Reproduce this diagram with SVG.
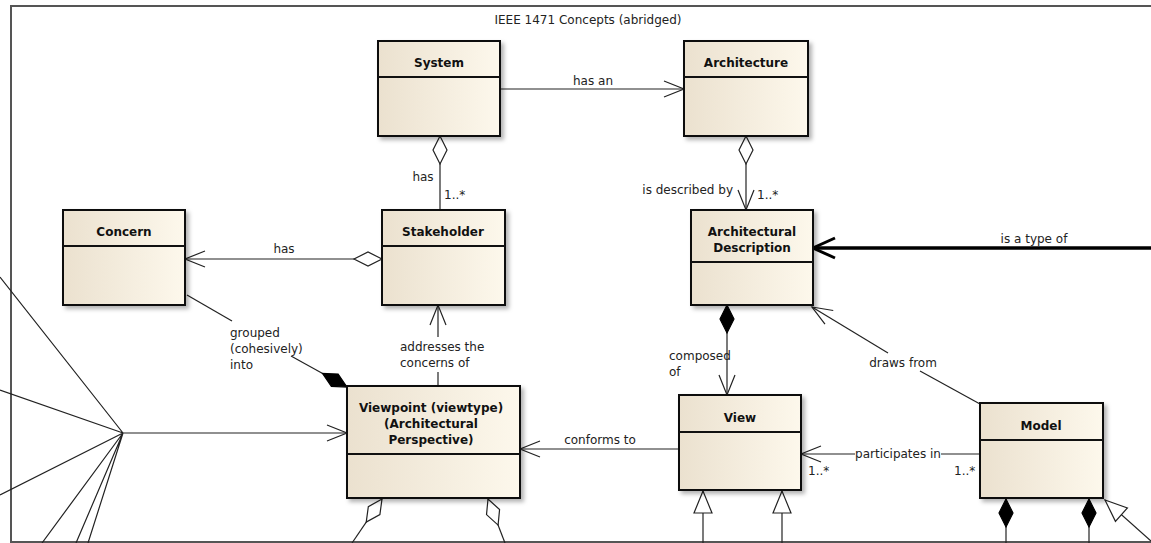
<svg xmlns="http://www.w3.org/2000/svg" width="1151" height="543" viewBox="0 0 1151 543">
<style>
.node rect.box{fill:url(#g);stroke:#111;stroke-width:2;filter:url(#sh)}
.node line{stroke:#111;stroke-width:2}
.title{font-family:"DejaVu Sans",sans-serif;font-size:12px;font-weight:bold;fill:#111;text-anchor:middle}
.lbl{font-family:"DejaVu Sans",sans-serif;font-size:12px;fill:#222}
.c{fill:none;stroke:#222;stroke-width:1.2}
</style>
<defs>
<linearGradient id="g" x1="0" y1="0" x2="1" y2="0">
<stop offset="0" stop-color="#ebe1cf"/>
<stop offset="1" stop-color="#fdf8ec"/>
</linearGradient>
<filter id="sh" x="-10%" y="-10%" width="130%" height="130%">
<feDropShadow dx="3" dy="3" stdDeviation="2" flood-color="#000" flood-opacity="0.3"/>
</filter>
<marker id="open" markerUnits="userSpaceOnUse" viewBox="-22 -10 24 20" refX="0" refY="0" markerWidth="24" markerHeight="20" orient="auto" overflow="visible">
<path d="M-20,-8 L0,0 L-20,8" fill="none" stroke="#222" stroke-width="1.2"/>
</marker>
<marker id="openThick" markerUnits="userSpaceOnUse" viewBox="-24 -12 26 24" refX="0" refY="0" markerWidth="26" markerHeight="24" orient="auto" overflow="visible">
<path d="M-22,-10 L0,0 L-22,10" fill="none" stroke="#000" stroke-width="3"/>
</marker>
<marker id="hdia" markerUnits="userSpaceOnUse" viewBox="-30 -9 32 18" refX="0" refY="0" markerWidth="32" markerHeight="18" orient="auto-start-reverse" overflow="visible">
<path d="M0,0 L-14,-7 L-28,0 L-14,7 Z" fill="#fff" stroke="#222" stroke-width="1.2"/>
</marker>
<marker id="fdia" markerUnits="userSpaceOnUse" viewBox="-30 -9 32 18" refX="0" refY="0" markerWidth="32" markerHeight="18" orient="auto-start-reverse" overflow="visible">
<path d="M0,0 L-14,-7 L-28,0 L-14,7 Z" fill="#000" stroke="#000" stroke-width="1.2"/>
</marker>
<marker id="tri" markerUnits="userSpaceOnUse" viewBox="-24 -11 26 22" refX="0" refY="0" markerWidth="26" markerHeight="22" orient="auto-start-reverse" overflow="visible">
<path d="M0,0 L-22,-9 L-22,9 Z" fill="#fff" stroke="#222" stroke-width="1.2"/>
</marker>
</defs>
<rect width="1151" height="543" fill="#fff"/>
<g id="frame">
<path d="M1151,6 L11,6 L11,542 L1151,542" fill="none" stroke="#555" stroke-width="2"/>
<text class="lbl" x="588" y="24" text-anchor="middle">IEEE 1471 Concepts (abridged)</text>
</g>

<g id="connectors">
<path class="c" d="M500,89 L684,89" marker-end="url(#open)"/>
<text class="lbl" x="593" y="85" text-anchor="middle">has an</text>

<path class="c" d="M440,136 L440,210" marker-start="url(#hdia)"/>
<text class="lbl" x="423" y="181" text-anchor="middle">has</text>
<text class="lbl" x="444" y="199">1..*</text>

<path class="c" d="M746,136 L746,210" marker-start="url(#hdia)" marker-end="url(#open)"/>
<text class="lbl" x="733" y="194" text-anchor="end">is described by</text>
<text class="lbl" x="757" y="199">1..*</text>

<path class="c" d="M382,259 L185,259" marker-start="url(#hdia)" marker-end="url(#open)"/>
<text class="lbl" x="284" y="253" text-anchor="middle">has</text>

<path class="c" d="M187,295 L232,321"/>
<path class="c" d="M291,356 L347,387" marker-end="url(#fdia)"/>
<text class="lbl" x="230" y="337">grouped</text>
<text class="lbl" x="230" y="353">(cohesively)</text>
<text class="lbl" x="230" y="369">into</text>

<path class="c" d="M438,386 L438,372"/>
<path class="c" d="M438,337 L438,305" marker-end="url(#open)"/>
<text class="lbl" x="400" y="351">addresses the</text>
<text class="lbl" x="400" y="367">concerns of</text>

<path class="c" d="M727,305 L727,395" marker-start="url(#fdia)" marker-end="url(#open)"/>
<text class="lbl" x="669" y="360">composed</text>
<text class="lbl" x="669" y="376">of</text>

<path d="M1151,248 L813,248" fill="none" stroke="#000" stroke-width="3.5" marker-end="url(#openThick)"/>
<text class="lbl" x="1034" y="243" text-anchor="middle">is a type of</text>

<path class="c" d="M888,353 L812,307" marker-end="url(#open)"/>
<path class="c" d="M920,371 L980,404"/>
<text class="lbl" x="903" y="367" text-anchor="middle">draws from</text>

<path class="c" d="M679,449 L520,449" marker-end="url(#open)"/>
<text class="lbl" x="600" y="444" text-anchor="middle">conforms to</text>

<path class="c" d="M980,454 L941,454"/>
<path class="c" d="M855,454 L801,454" marker-end="url(#open)"/>
<text class="lbl" x="898" y="458" text-anchor="middle">participates in</text>
<text class="lbl" x="808" y="475">1..*</text>
<text class="lbl" x="954" y="475">1..*</text>

<path class="c" d="M123,433 L347,433" marker-end="url(#open)"/>
<path class="c" d="M0,277 L123,433 M0,390 L123,433 M0,495 L123,433 M42,543 L123,433 M76,543 L123,433 M88,543 L123,433"/>

<path class="c" d="M382,499 L352,543" marker-start="url(#hdia)"/>
<path class="c" d="M488,499 L505,543" marker-start="url(#hdia)"/>

<path class="c" d="M703,491 L703,543" marker-start="url(#tri)"/>
<path class="c" d="M782,491 L782,543" marker-start="url(#tri)"/>

<path class="c" d="M1006,499 L1006,543" marker-start="url(#fdia)"/>
<path class="c" d="M1089,499 L1089,543" marker-start="url(#fdia)"/>
<path class="c" d="M1105,500 L1151,541" marker-start="url(#tri)"/>
</g>

<g id="node-system" class="node">
<rect class="box" x="378" y="41" width="122" height="95"/>
<line x1="378" y1="77" x2="500" y2="77"/>
<text class="title" x="439" y="67">System</text>
</g>
<g id="node-architecture" class="node">
<rect class="box" x="684" y="41" width="124" height="95"/>
<line x1="684" y1="77" x2="808" y2="77"/>
<text class="title" x="746" y="67">Architecture</text>
</g>
<g id="node-concern" class="node">
<rect class="box" x="63" y="210" width="122" height="95"/>
<line x1="63" y1="246" x2="185" y2="246"/>
<text class="title" x="124" y="236">Concern</text>
</g>
<g id="node-stakeholder" class="node">
<rect class="box" x="382" y="210" width="123" height="95"/>
<line x1="382" y1="246" x2="505" y2="246"/>
<text class="title" x="443" y="236">Stakeholder</text>
</g>
<g id="node-architectural-description" class="node">
<rect class="box" x="691" y="210" width="122" height="95"/>
<line x1="691" y1="262" x2="813" y2="262"/>
<text class="title" x="752" y="236">Architectural</text>
<text class="title" x="752" y="252">Description</text>
</g>
<g id="node-viewpoint" class="node">
<rect class="box" x="347" y="386" width="173" height="112"/>
<line x1="347" y1="454" x2="520" y2="454"/>
<text class="title" x="431" y="412">Viewpoint (viewtype)</text>
<text class="title" x="431" y="428">(Architectural</text>
<text class="title" x="431" y="444">Perspective)</text>
</g>
<g id="node-view" class="node">
<rect class="box" x="679" y="395" width="122" height="95"/>
<line x1="679" y1="432" x2="801" y2="432"/>
<text class="title" x="740" y="422">View</text>
</g>
<g id="node-model" class="node">
<rect class="box" x="980" y="403" width="123" height="95"/>
<line x1="980" y1="440" x2="1103" y2="440"/>
<text class="title" x="1041" y="430">Model</text>
</g>
</svg>
